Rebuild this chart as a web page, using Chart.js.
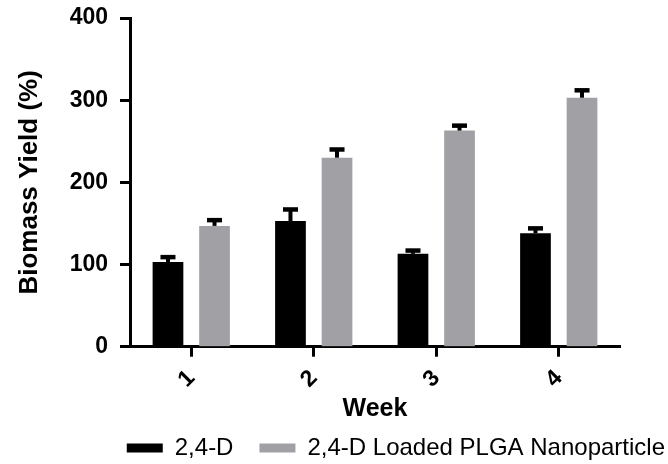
<!DOCTYPE html>
<html>
<head>
<meta charset="utf-8">
<script src="https://cdn.jsdelivr.net/npm/chart.js@4/dist/chart.umd.min.js"></script>
<style>
html,body{margin:0;padding:0;background:#fff;}
#c{display:block;}
</style>
</head>
<body>
<canvas id="c" width="668" height="464"></canvas>
<script>
// ---- data ----
const weeks = ['1', '2', '3', '4'];
const d24 = [103, 153, 113, 138];
const d24Err = [6, 14, 4, 6];
const plga = [147, 230, 263, 303];
const plgaErr = [7, 10, 6, 9];
const yTicks = [0, 100, 200, 300, 400];

const errors = [d24Err, plgaErr];

Chart.defaults.font.family = '"Liberation Sans", Arial, sans-serif';
Chart.defaults.color = '#000';

const errorBars = {
  id: 'errorBars',
  afterDatasetsDraw(chart) {
    const ctx = chart.ctx;
    const ys = chart.scales.y;
    chart.data.datasets.forEach((ds, di) => {
      const meta = chart.getDatasetMeta(di);
      meta.data.forEach((bar, i) => {
        const v = ds.data[i];
        const e = errors[di][i];
        const yTop = ys.getPixelForValue(v + e);
        const yBar = ys.getPixelForValue(v);
        ctx.save();
        ctx.strokeStyle = '#000';
        ctx.lineWidth = 4;
        ctx.beginPath();
        ctx.moveTo(bar.x, yBar);
        ctx.lineTo(bar.x, yTop);
        ctx.stroke();
        ctx.lineWidth = 4.5;
        ctx.beginPath();
        ctx.moveTo(bar.x - 7.5, yTop);
        ctx.lineTo(bar.x + 7.5, yTop);
        ctx.stroke();
        ctx.restore();
      });
    });
  }
};

new Chart(document.getElementById('c'), {
  type: 'bar',
  data: {
    labels: weeks,
    datasets: [
      { label: '2,4-D', data: d24, backgroundColor: '#000000', yAxisID: 'y',
        categoryPercentage: 0.76, barPercentage: 0.66 },
      { label: '2,4-D Loaded PLGA Nanoparticle', data: plga, backgroundColor: '#a1a1a5', yAxisID: 'y',
        categoryPercentage: 0.76, barPercentage: 0.66 }
    ]
  },
  options: {
    responsive: false,
    animation: false,
    devicePixelRatio: 1,
    layout: { padding: { left: 0, right: -23, top: 18, bottom: -6 } },
    plugins: {
      tooltip: { enabled: false },
      legend: {
        position: 'bottom',
        align: 'end',
        labels: {
          boxWidth: 36,
          boxHeight: 9,
          padding: 26,
          font: { size: 24 },
          color: '#000'
        }
      }
    },
    scales: {
      x: {
        afterFit(s) { s.height = 63.3; },
        grid: { display: true, drawOnChartArea: false, drawTicks: true, tickLength: 10, tickWidth: 3, tickColor: '#000', offset: false },
        border: { display: true, color: '#000', width: 3 },
        ticks: { font: { size: 23, weight: 'bold' }, minRotation: 45, maxRotation: 45, padding: 8, color: '#000' },
        title: { display: true, text: 'Week', font: { size: 25, weight: 'bold' }, padding: { top: 0, bottom: -14 }, color: '#000' }
      },
      y: {
        position: 'left',
        min: 0,
        max: 400,
        afterFit(s) { s.width = 130; s.paddingTop = 0; s.paddingBottom = 0; },
        afterBuildTicks(s) { s.ticks = yTicks.map(v => ({ value: v })); },
        grid: { display: true, drawOnChartArea: false, drawTicks: true, tickLength: 10, tickWidth: 3, tickColor: '#000' },
        border: { display: true, color: '#000', width: 3 },
        ticks: { font: { size: 23, weight: 'bold' }, padding: 12, color: '#000' },
        title: { display: true, text: 'Biomass Yield (%)', font: { size: 26, weight: 'bold' }, padding: { top: 14, bottom: 0 }, color: '#000' }
      },
      y2: {
        position: 'right',
        display: true,
        afterFit(s) { s.width = 71; s.paddingTop = 0; s.paddingBottom = 0; },
        grid: { display: false },
        border: { display: false },
        ticks: { display: false }
      }
    }
  },
  plugins: [errorBars]
});
</script>
</body>
</html>
